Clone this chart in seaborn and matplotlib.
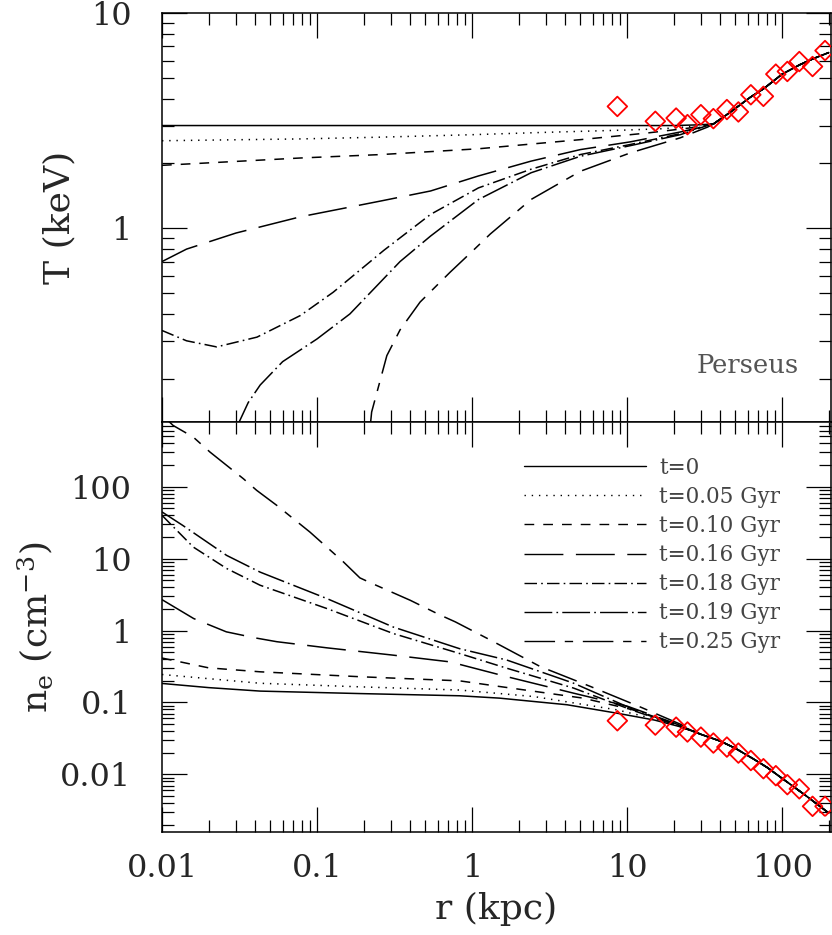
import numpy as np
import pandas as pd
import seaborn as sns
import matplotlib.pyplot as plt
from matplotlib.ticker import LogLocator, NullFormatter, FuncFormatter
from matplotlib.lines import Line2D

# model runs
runs = ["t=0", "t=0.05 Gyr", "t=0.10 Gyr", "t=0.16 Gyr", "t=0.18 Gyr", "t=0.19 Gyr", "t=0.25 Gyr"]

# --- temperature profiles (keV), inner part of each run
T_r_00 = [0.01, 1, 10, 20, 28]
T_00 = [3.0, 3.0, 3.0, 3.0, 3.02]
T_r_05 = [0.01, 0.078, 0.26, 1.0, 3.0, 10, 17, 28]
T_05 = [2.55, 2.6, 2.65, 2.72, 2.79, 2.86, 2.9, 2.98]
T_r_10 = [0.01, 0.078, 0.26, 1.1, 5.0, 13.5, 25]
T_10 = [1.96, 2.12, 2.2, 2.34, 2.58, 2.77, 2.92]
T_r_16 = [0.01, 0.0144, 0.03, 0.078, 0.26, 0.54, 1.1, 2.4, 5.0, 10.5, 22, 30]
T_16 = [0.70, 0.80, 0.95, 1.13, 1.34, 1.49, 1.75, 2.05, 2.32, 2.52, 2.8, 2.95]
T_r_18 = [0.01, 0.0144, 0.0225, 0.041, 0.078, 0.127, 0.27, 0.54, 1.1, 2.4, 5.0, 10.5, 22, 32]
T_18 = [0.335, 0.30, 0.281, 0.312, 0.393, 0.504, 0.79, 1.16, 1.54, 1.88, 2.2, 2.45, 2.75, 3.0]
T_r_19 = [0.0305, 0.036, 0.043, 0.060, 0.10, 0.163, 0.255, 0.343, 0.54, 1.1, 2.4, 5.0, 10.5, 22, 32]
T_19 = [0.12, 0.155, 0.187, 0.24, 0.306, 0.40, 0.56, 0.70, 0.92, 1.36, 1.81, 2.16, 2.42, 2.72, 2.98]
T_r_25 = [0.219, 0.225, 0.282, 0.343, 0.462, 0.722, 1.0, 1.31, 2.4, 5.0, 10.5, 22, 33]
T_25 = [0.115, 0.14, 0.256, 0.337, 0.454, 0.625, 0.78, 0.94, 1.36, 1.84, 2.24, 2.63, 2.95]
# outer part, where all runs coincide
T_tail_r = [36, 46, 62, 76, 100, 130, 160, 200]
T_tail = [3.05, 3.45, 4.05, 4.45, 5.2, 5.75, 6.15, 6.55]

# --- electron density profiles (cm^-3), inner part of each run
n_r_00 = [0.01, 0.02, 0.043, 0.19, 0.83, 1.5, 4.1, 8.6, 15, 22]
n_00 = [0.184, 0.161, 0.144, 0.133, 0.124, 0.115, 0.093, 0.071, 0.057, 0.046]
n_r_05 = [0.01, 0.043, 0.19, 0.83, 2.5, 8.6, 18]
n_05 = [0.245, 0.185, 0.165, 0.149, 0.121, 0.079, 0.054]
n_r_10 = [0.01, 0.02, 0.043, 0.19, 0.83, 1.5, 5.2, 10.9, 20]
n_10 = [0.415, 0.303, 0.267, 0.228, 0.2, 0.167, 0.115, 0.079, 0.05]
n_r_16 = [0.01, 0.016, 0.026, 0.04, 0.055, 0.116, 0.31, 0.72, 1.67, 4.5, 10, 20]
n_16 = [2.69, 1.47, 0.96, 0.79, 0.70, 0.575, 0.455, 0.367, 0.229, 0.135, 0.089, 0.052]
n_r_18 = [0.01, 0.0159, 0.0261, 0.0429, 0.116, 0.31, 0.83, 1.67, 4.5, 11, 20]
n_18 = [40, 14.5, 7.3, 4.27, 2.02, 0.91, 0.48, 0.30, 0.159, 0.077, 0.05]
n_r_19 = [0.01, 0.0136, 0.0261, 0.0429, 0.116, 0.31, 0.83, 1.67, 4.5, 11, 20]
n_19 = [44.6, 29, 11.1, 6.5, 2.78, 1.12, 0.56, 0.39, 0.186, 0.08, 0.051]
n_r_25 = [0.01, 0.0118, 0.0159, 0.0204, 0.0335, 0.0408, 0.055, 0.090, 0.148, 0.189,
          0.22, 0.40, 0.62, 0.78, 1.31, 2.75, 5.8, 12.1, 22]
n_25 = [1000, 710, 490, 303, 129, 89, 55, 23.4, 9.0, 5.4,
        4.64, 2.63, 1.65, 1.32, 0.74, 0.316, 0.167, 0.087, 0.05]
n_tail_r = [30, 40, 50, 65, 80, 100, 140, 200]
n_tail = [0.036, 0.029, 0.023, 0.0165, 0.0125, 0.0088, 0.0052, 0.0029]

# --- observed Perseus profiles
obs_r = [8.65, 15.2, 20.7, 24.5, 29.9, 36.0, 44.0, 52.2, 62.8, 75.7, 91.0, 108, 129, 157, 189]
obs_T = [3.68, 3.14, 3.25, 3.03, 3.37, 3.23, 3.56, 3.47, 4.17, 4.10, 5.2, 5.35, 5.95, 5.64, 6.69]
obs_n = [0.0557, 0.0485, 0.0454, 0.0389, 0.033, 0.0273, 0.024, 0.0198, 0.0156, 0.012,
         0.0096, 0.0072, 0.0063, 0.0036, 0.0036]

# dash patterns (points)
dash_map = {
    "t=0": "",
    "t=0.05 Gyr": (1.0, 4.2),
    "t=0.10 Gyr": (7.0, 6.5),
    "t=0.16 Gyr": (28.0, 9.0),
    "t=0.18 Gyr": (9.0, 3.0, 1.2, 3.0),
    "t=0.19 Gyr": (20.0, 3.0, 1.2, 3.0),
    "t=0.25 Gyr": (22.0, 7.0, 6.0, 7.0),
}

T_in = [(T_r_00, T_00), (T_r_05, T_05), (T_r_10, T_10), (T_r_16, T_16),
        (T_r_18, T_18), (T_r_19, T_19), (T_r_25, T_25)]
n_in = [(n_r_00, n_00), (n_r_05, n_05), (n_r_10, n_10), (n_r_16, n_16),
        (n_r_18, n_18), (n_r_19, n_19), (n_r_25, n_25)]

rows_T, rows_n = [], []
for run, (r, v) in zip(runs, T_in):
    for a, b in zip(list(r) + T_tail_r, list(v) + T_tail):
        rows_T.append((run, a, b))
for run, (r, v) in zip(runs, n_in):
    for a, b in zip(list(r) + n_tail_r, list(v) + n_tail):
        rows_n.append((run, a, b))
df_T = pd.DataFrame(rows_T, columns=["run", "r", "T"])
df_n = pd.DataFrame(rows_n, columns=["run", "r", "n"])

sns.set_style("ticks")
plt.rcParams["font.family"] = ["DejaVu Serif"]
plt.rcParams["mathtext.fontset"] = "dejavuserif"
plt.rcParams["lines.scale_dashes"] = False

fig = plt.figure(figsize=(8.32, 9.35), dpi=100)
ax_T = fig.add_axes([0.1947, 0.5487, 0.8035, 0.4374])
ax_n = fig.add_axes([0.1947, 0.1102, 0.8035, 0.4385], sharex=ax_T)

for ax in (ax_T, ax_n):
    ax.set_xscale("log")
    ax.set_yscale("log")

sns.lineplot(data=df_T, x="r", y="T", style="run", style_order=runs, dashes=dash_map,
             color="black", linewidth=1.1, estimator=None, legend=False, ax=ax_T)
sns.lineplot(data=df_n, x="r", y="n", style="run", style_order=runs, dashes=dash_map,
             color="black", linewidth=1.1, estimator=None, legend=False, ax=ax_n)

sns.scatterplot(x=obs_r, y=obs_T, ax=ax_T, marker="D", s=100, facecolor="none",
                edgecolor="red", linewidth=1.3, zorder=5)
sns.scatterplot(x=obs_r, y=obs_n, ax=ax_n, marker="D", s=100, facecolor="none",
                edgecolor="red", linewidth=1.3, zorder=5)

ax_T.set_xlim(0.01, 205)
ax_T.set_ylim(10 ** -0.9, 10)
ax_n.set_ylim(10 ** -2.8, 10 ** 2.9)

fmt = FuncFormatter(lambda v, _: f"{v:g}")
for ax in (ax_T, ax_n):
    ax.xaxis.set_major_locator(LogLocator(base=10, numticks=20))
    ax.xaxis.set_minor_locator(LogLocator(base=10, subs=np.arange(2, 10), numticks=100))
    ax.yaxis.set_major_locator(LogLocator(base=10, numticks=20))
    ax.yaxis.set_minor_locator(LogLocator(base=10, subs=np.arange(2, 10), numticks=100))
    ax.xaxis.set_minor_formatter(NullFormatter())
    ax.yaxis.set_minor_formatter(NullFormatter())
    ax.yaxis.set_major_formatter(fmt)
    ax.xaxis.set_major_formatter(fmt)
    ax.tick_params(which="both", direction="in", top=True, right=True, width=0.9,
                   labelsize=23, color="black")
    ax.tick_params(which="major", length=18)
    ax.tick_params(which="minor", length=8.5)
    ax.tick_params(axis="y", which="major", pad=22)
    ax.tick_params(axis="x", which="major", pad=15)
    for sp in ax.spines.values():
        sp.set_linewidth(1.1)
        sp.set_color("black")
ax_T.tick_params(labelbottom=False)

ax_T.set_xlabel("")
ax_T.set_ylabel("T (keV)", fontsize=26, labelpad=10)
ax_n.set_ylabel(r"n$_{\rm e}$ (cm$^{-3}$)", fontsize=26, labelpad=4)
ax_n.set_xlabel("r (kpc)", fontsize=26, labelpad=6)

ax_T.text(0.952, 0.12, "Perseus", transform=ax_T.transAxes, ha="right", va="baseline",
          fontsize=18.5, color="#555555")

handles = []
for run in runs:
    d = dash_map[run]
    ls = "-" if d == "" else (0, d)
    handles.append(Line2D([], [], color="black", linewidth=1.0, linestyle=ls))
ax_n.legend(handles, runs, loc="upper right", bbox_to_anchor=(0.925, 0.915),
            frameon=False, fontsize=15.5, handlelength=5.7, handletextpad=0.6,
            labelspacing=0.33, borderpad=0, borderaxespad=0, labelcolor="#444444")

fig.savefig("out.png", dpi=100)
